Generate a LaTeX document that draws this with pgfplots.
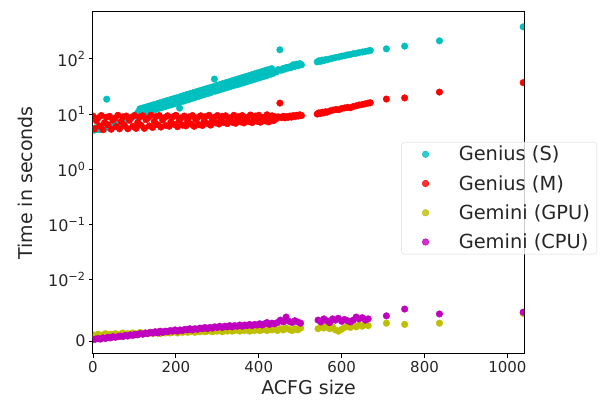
\documentclass[border=0pt]{standalone}
\usepackage{fontspec}
\setmainfont{DejaVu Sans}
\usepackage{pgfplots}
\usepackage{pgfplotstable}
\pgfplotsset{compat=1.18}

\definecolor{cS}{HTML}{00BFBF}
\definecolor{cM}{HTML}{FF0000}
\definecolor{cG}{HTML}{BFBF00}
\definecolor{cC}{HTML}{BF00BF}

% symmetric log scale (base 10, linear below 0.01, linscale 1)
\pgfmathdeclarefunction{symlogten}{1}{%
  \pgfmathparse{ifthenelse(#1<0.01,111.111*#1,0.434294*ln(#1)+3.11111)}%
}

% Genius, single-threaded (seconds)
\pgfplotstableread{
x y
3 5.1
6 5.6
9 5.3
12 5.8
15 5.2
18 6.0
21 5.5
24 5.8
27 6.1
30 5.5
33 18.6
36 5.9
39 6.2
42 5.7
45 6.4
48 6.0
51 6.3
54 6.6
57 6.1
60 6.8
64 6.7
68 7.2
72 7.3
76 7.7
80 7.8
84 8.2
88 8.3
92 8.8
96 8.9
100 9.4
104 9.6
108 10.6
110 9.8
113 12.4
116 10.1
119 12.8
122 10.4
125 13.2
128 10.8
131 13.6
134 11.1
137 14.0
140 11.5
143 14.5
146 11.9
149 14.9
152 12.2
155 15.4
158 12.6
161 15.9
164 13.0
167 16.4
170 13.4
173 16.9
176 13.8
179 17.5
182 14.3
185 18.0
188 14.7
191 18.6
194 15.2
197 19.2
200 15.7
203 19.8
206 16.2
209 12.8
212 20.8
215 16.9
218 21.5
221 17.4
224 22.2
227 18.0
230 22.9
233 18.6
236 23.6
239 19.2
242 24.4
245 19.9
248 25.1
251 20.5
254 25.9
257 21.2
260 26.8
263 21.9
266 27.6
269 22.6
272 28.5
275 23.3
278 29.4
281 24.1
284 30.3
287 24.9
290 31.3
293 43.0
296 26.1
299 33.0
302 26.9
305 34.0
308 27.8
311 35.1
314 28.7
317 36.3
320 29.7
323 37.4
326 30.6
329 38.6
332 31.6
335 39.9
338 32.7
341 41.2
344 33.7
347 42.5
350 34.4
353 43.9
356 35.6
359 45.3
362 36.7
365 46.8
368 37.9
371 48.3
374 39.2
377 49.9
380 40.5
383 51.5
386 41.8
389 53.2
392 43.2
395 54.9
398 44.6
401 56.7
404 46.0
407 58.5
410 47.5
413 60.4
416 49.1
419 62.4
422 50.7
425 64.4
428 52.4
431 66.5
434 54.1
443 58
447 64
451 146
455 62
459 67
463 65
467 70
471 68
475 72
479 70
483 78
487 73
491 80
495 75
499 82
503 78
541 88
545 92
549 90
553 95
557 93
561 97
565 96
572 100
579 103
586 106
593 108
600 112
607 114
614 118
621 120
628 124
635 126
642 130
650 133
657 136
664 139
669 142
708 152
752 170
836 212
1038 380
}\tabS

% Genius, multi-threaded (seconds)
\pgfplotstableread{
x y
0 9.2
4 5.4
8 7.6
12 8.5
16 6.1
20 9.4
24 5.2
28 7.0
32 8.8
36 6.4
40 9.1
44 5.3
48 7.8
52 8.3
56 5.9
60 9.5
64 5.4
68 7.3
72 8.9
76 6.2
80 9.2
84 5.4
88 7.7
92 8.6
96 6.0
100 9.4
104 5.5
108 7.1
112 8.8
116 6.3
120 9.3
124 5.5
128 7.9
132 8.4
136 6.1
140 9.5
144 5.7
148 7.4
152 9.0
156 6.4
160 9.4
164 5.8
168 7.8
172 8.6
176 6.2
180 9.3
184 6.0
188 7.2
192 8.9
196 6.5
200 9.5
204 5.9
208 7.7
212 8.5
216 6.3
220 9.2
224 6.1
228 7.5
232 8.9
236 6.6
240 9.4
244 6.0
248 7.9
252 8.6
256 6.4
260 9.3
264 6.2
268 7.4
272 9.0
276 6.7
280 9.5
284 6.3
288 7.8
292 8.7
296 6.9
300 9.4
304 6.6
308 7.6
312 9.1
316 7.0
320 9.3
324 6.7
328 8.0
332 8.6
336 7.1
340 9.5
344 6.8
348 7.7
352 9.0
356 7.2
360 9.4
364 6.9
368 8.1
372 8.7
376 7.3
380 9.6
384 7.0
388 7.8
392 9.2
396 7.4
400 9.5
404 7.1
408 8.2
412 8.8
416 7.5
420 9.7
424 7.2
428 8.0
432 9.3
436 7.6
440 8.9
443 8.3
447 8.9
451 15.8
455 8.6
459 9.1
463 8.5
467 9.0
471 8.7
475 9.2
479 8.8
483 9.4
487 9.0
491 9.5
495 9.2
499 9.7
503 9.4
541 10.0
545 10.5
549 10.2
553 10.8
557 10.5
561 11.0
565 10.8
572 11.4
579 11.8
586 12.1
593 12.0
600 12.6
607 12.9
614 13.2
621 13.0
628 13.7
635 14.1
642 14.6
650 14.9
657 15.3
664 15.8
669 16.0
708 18.7
752 19.6
836 25.0
1038 37.0
}\tabM

% Gemini on GPU (seconds)
\pgfplotstableread{
x y
0 .0010
6 .0008
12 .0011
18 .0009
24 .0010
30 .0012
36 .0009
42 .0011
48 .0010
54 .0012
60 .0010
66 .0011
72 .0013
78 .0010
84 .0012
90 .0011
96 .0013
102 .0011
108 .0012
114 .0014
120 .0011
126 .0013
132 .0012
138 .0014
144 .0012
150 .0013
156 .0015
162 .0012
168 .0014
174 .0013
180 .0015
186 .0013
192 .0014
198 .0016
204 .0013
210 .0015
216 .0014
222 .0016
228 .0014
234 .0015
240 .0017
246 .0014
252 .0016
258 .0015
264 .0017
270 .0015
276 .0016
282 .0018
288 .0015
294 .0017
300 .0016
306 .0018
312 .0015
318 .0017
324 .0016
330 .0018
336 .0016
342 .0017
348 .0019
354 .0016
360 .0018
366 .0017
372 .0019
378 .0016
384 .0018
390 .0017
396 .0019
402 .0017
408 .0018
414 .0020
420 .0017
426 .0019
432 .0018
438 .0020
445 .0017
452 .0020
459 .0018
466 .0021
473 .0019
480 .0017
487 .0020
494 .0018
501 .0021
543 .0020
550 .0023
557 .0021
564 .0024
571 .0020
578 .0023
585 .0018
592 .0016
600 .0019
607 .0022
614 .0024
621 .0022
628 .0025
635 .0023
642 .0026
650 .0024
657 .0027
664 .0025
708 .0029
752 .0027
836 .0029
1038 .0045
}\tabG

% Gemini on CPU (seconds)
\pgfplotstableread{
x y
0 .0002
6 .0003
12 .0004
18 .0003
24 .0005
30 .0004
36 .0006
42 .0005
48 .0007
54 .0006
60 .0007
66 .0008
72 .0007
78 .0009
84 .0008
90 .0010
96 .0009
102 .0011
108 .0010
114 .0012
120 .0011
126 .0013
132 .0012
138 .0014
144 .0013
150 .0015
156 .0013
162 .0016
168 .0014
174 .0016
180 .0015
186 .0017
192 .0016
198 .0018
204 .0016
210 .0018
216 .0017
222 .0019
228 .0018
234 .0020
240 .0018
246 .0020
252 .0019
258 .0021
264 .0020
270 .0022
276 .0020
282 .0022
288 .0021
294 .0023
300 .0022
306 .0024
312 .0022
318 .0024
324 .0023
330 .0025
336 .0023
342 .0025
348 .0024
354 .0026
360 .0024
366 .0026
372 .0025
378 .0027
384 .0025
390 .0027
396 .0026
402 .0028
408 .0026
414 .0028
420 .0030
426 .0027
432 .0029
438 .0028
445 .0030
452 .0034
459 .0031
466 .0039
473 .0032
480 .0030
487 .0033
494 .0031
501 .0029
543 .0034
550 .0031
557 .0036
564 .0033
571 .0030
578 .0036
585 .0034
592 .0037
600 .0032
607 .0035
614 .0033
621 .0031
628 .0034
635 .0039
642 .0036
650 .0038
657 .0034
664 .0036
708 .0041
752 .0052
836 .0044
1038 .0047
}\tabC

\pgfplotsset{
  dots/.style={
    only marks, mark=*, mark size=3.3pt,
    color=#1, mark options={draw=none, fill=#1},
    legend image code/.code={%
      \path (0pt,0pt) (50pt,0pt);
      \draw[##1] plot coordinates {(20pt,0pt)};}
  },
}

\begin{document}
\begin{tikzpicture}
\path[use as bounding box] (-93pt,-49pt) rectangle (507pt,354pt);
\begin{axis}[
  at={(0pt,0pt)}, anchor=south west,
  scale only axis, width=431pt, height=342pt,
  xmin=0, xmax=1040, ymin=-0.236, ymax=5.96,
  xtick={0,200,...,1000},
  ytick={0,1.11111,2.11111,3.11111,4.11111,5.11111},
  yticklabels={0,10\textsuperscript{−2},10\textsuperscript{−1},10\textsuperscript{0},10\textsuperscript{1},10\textsuperscript{2}},
  xtick pos=bottom, ytick pos=left, tick align=outside,
  major tick length=4pt,
  every tick/.style={black, line width=0.8pt},
  axis line style={line width=1pt},
  tick label style={font=\fontsize{15}{18}\selectfont, text=black!85},
  yticklabel style={font=\fontsize{16}{19}\selectfont},
  /pgf/number format/assume math mode=true,
  /pgf/number format/1000 sep={},
  xlabel={ACFG size}, ylabel={Time in seconds},
  label style={font=\fontsize{19}{22}\selectfont, text=black!85},
  ylabel shift=8pt,
  clip marker paths=true,
  legend cell align=left,
  legend style={at={(0.715,0.62)}, anchor=north west,
    draw=black!15, rounded corners=3pt, fill=white,
    fill opacity=0.8, draw opacity=1, text opacity=1,
    font=\fontsize{19.4}{22}\selectfont, text=black!85,
    inner xsep=4pt, inner ysep=3pt, row sep=11pt,
    nodes={inner xsep=3pt, inner ysep=1pt}},
]
\addplot[dots=cS] table[x=x, y expr={symlogten(\thisrow{y})}] {\tabS};
\addlegendentry{Genius (S)}
\addplot[dots=cM] table[x=x, y expr={symlogten(\thisrow{y})}] {\tabM};
\addlegendentry{Genius (M)}
\addplot[dots=cG] table[x=x, y expr={symlogten(\thisrow{y})}] {\tabG};
\addlegendentry{Gemini (GPU)}
\addplot[dots=cC] table[x=x, y expr={symlogten(\thisrow{y})}] {\tabC};
\addlegendentry{Gemini (CPU)}
\end{axis}
\end{tikzpicture}
\end{document}
